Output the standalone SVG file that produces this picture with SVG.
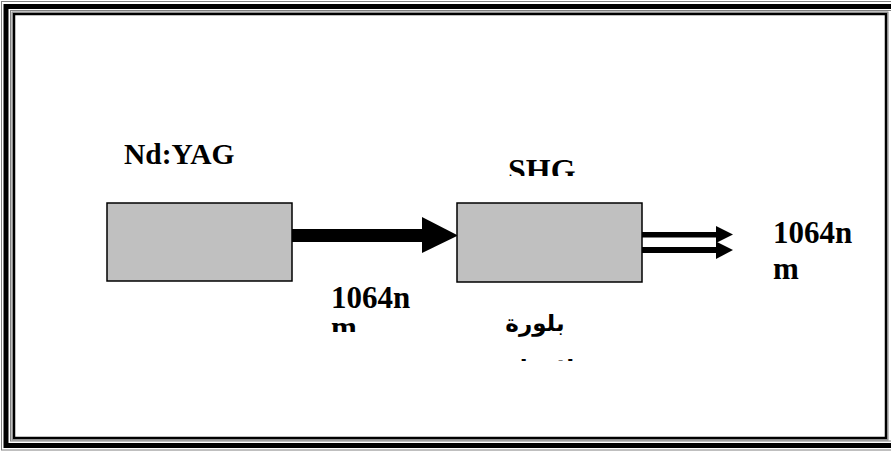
<svg xmlns="http://www.w3.org/2000/svg" width="891" height="451" viewBox="0 0 891 451">
<style>
.t{font-family:"Liberation Serif","Times New Roman",serif;font-weight:bold;font-size:31px;fill:#000}
.ar{font-family:"DejaVu Sans",sans-serif;font-weight:bold;font-size:23px;fill:#000}
.box{fill:#c0c0c0;stroke:#000;stroke-width:1.5}
.g{fill:none;stroke:#808080;stroke-width:1}
.k{fill:none;stroke:#000}
</style>
<defs>
<clipPath id="cSHG"><rect x="480" y="140" width="140" height="36"/></clipPath>
<clipPath id="cL"><rect x="320" y="270" width="110" height="62"/></clipPath>
<clipPath id="cA"><rect x="480" y="300" width="110" height="61"/></clipPath>
</defs>
<rect width="891" height="451" fill="#fff"/>
<g id="frame">
<rect class="g" x="1.5" y="1.5" width="900" height="448.5"/>
<rect class="k" stroke-width="5" x="6" y="6.5" width="900" height="439"/>
<rect class="g" x="10.5" y="10.5" width="900" height="430.5"/>
<rect class="g" x="12" y="12" width="876" height="428"/>
<rect class="k" stroke-width="2.5" x="14" y="14" width="872" height="424"/>
</g>
<g id="connectors">
<rect x="292" y="229" width="132" height="13" fill="#000"/>
<polygon points="422,217 458,235.5 422,253" fill="#000"/>
<rect x="642" y="232" width="76" height="5.5" fill="#000"/>
<polygon points="716,226 733,234.5 716,243" fill="#000"/>
<rect x="642" y="247" width="76" height="6" fill="#000"/>
<polygon points="716,241.5 733,250 716,259" fill="#000"/>
</g>
<g id="laser">
<rect class="box" x="107" y="203" width="185" height="78"/>
<text class="t" x="124" y="164" style="font-size:29.5px">Nd:YAG</text>
</g>
<g id="shg">
<rect class="box" x="457" y="203" width="185" height="79"/>
<g clip-path="url(#cSHG)"><text class="t" x="508" y="181" style="font-size:32px">SHG</text></g>
</g>
<g id="label-in">
<g clip-path="url(#cL)">
<text class="t" x="331" y="308">1064n</text>
<text class="t" x="331" y="338">m</text>
</g>
</g>
<g id="label-crystal">
<g clip-path="url(#cA)">
<text class="ar" x="535" y="331" text-anchor="middle" direction="rtl">بلورة</text>
<text class="ar" x="535" y="376" text-anchor="middle" direction="rtl">لاخطية</text>
</g>
</g>
<g id="label-out">
<text class="t" x="773" y="243">1064n</text>
<text class="t" x="773" y="279">m</text>
</g>
</svg>
